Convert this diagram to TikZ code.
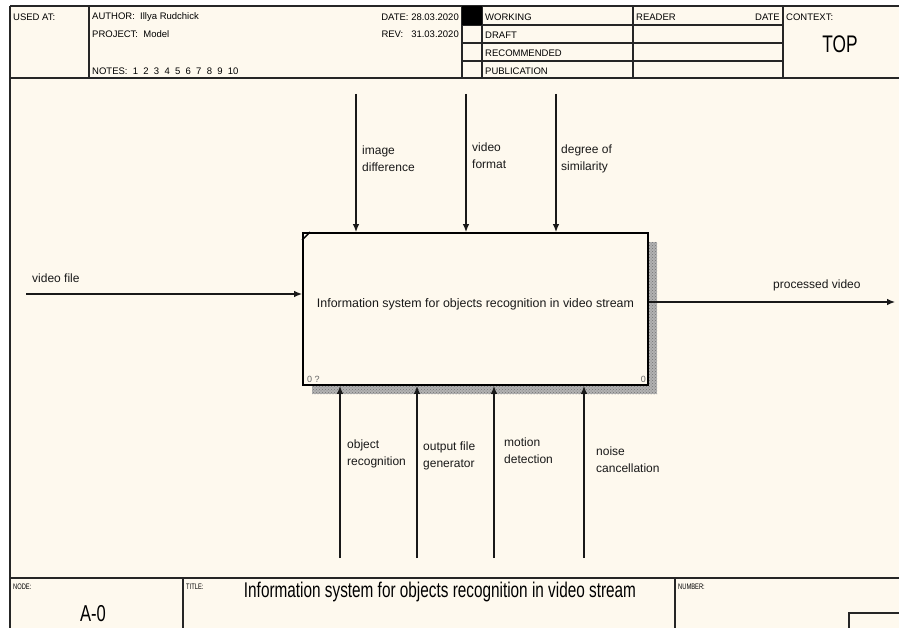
\documentclass[tikz,border=0pt]{standalone}
\usepackage{fontspec}
\setmainfont{Liberation Sans}
\newfontfamily\narrowfont[FakeStretch=0.72]{Liberation Sans}
\usetikzlibrary{arrows.meta, positioning, calc, patterns}
\definecolor{paper}{RGB}{254,249,238}
\tikzset{
  frame/.style  = {draw=black!85, line width=1.2pt},
  sysbox/.style = {rectangle, draw=black, line width=1.9pt, fill=paper,
                   minimum width=345pt, minimum height=152pt, inner sep=0pt},
  arr/.style    = {-{Latex[length=8pt,width=6.5pt]}, line width=1.1pt, draw=black!90},
  lbl/.style    = {align=left, anchor=north west, inner sep=0pt,
                   font=\fontsize{12}{17}\selectfont, text=black!90},
  hdr/.style    = {anchor=west, inner sep=0pt, font=\fontsize{9.5}{11}\selectfont},
  tag/.style    = {anchor=west, inner sep=0pt, font=\narrowfont\fontsize{8}{9}\selectfont},
  big/.style    = {inner sep=0pt, font=\narrowfont\fontsize{21}{24}\selectfont},
}

\begin{document}
\begin{tikzpicture}[x=1pt, y=-1pt]
  \useasboundingbox (0,0) rectangle (899,628);
  \fill[white] (0,0) rectangle (899,628);
  \fill[paper] (10,6) rectangle (899,628);

  % header form
  \draw[frame, line width=1.5pt] (10,6) -- (899,6);
  \draw[frame, line width=1.5pt] (10,6) -- (10,628);
  \draw[frame] (10,78) -- (899,78);
  \foreach \x in {89,462,482,633,783}
    \draw[frame] (\x,6) -- (\x,78);
  \foreach \y in {25,43,61}
    \draw[frame] (462,\y) -- (783,\y);
  \fill[black] (462,6) rectangle (482,25);

  \node[hdr] (usedat)  at (13,17)  {USED AT:};
  \node[hdr] (author)  at (92,17)  {AUTHOR:\ \ Illya Rudchick};
  \node[hdr] (project) at (92,34)  {PROJECT:\ \ Model};
  \node[hdr] (notes)   at (92,71)  {NOTES:\ \ 1\ \ 2\ \ 3\ \ 4\ \ 5\ \ 6\ \ 7\ \ 8\ \ 9\ \ 10};
  \node[hdr, anchor=east] (date) at (459,17) {DATE: 28.03.2020};
  \node[hdr, anchor=east] (rev)  at (459,34) {REV:\ \ \ 31.03.2020};
  \node[hdr] (working) at (485,17) {WORKING};
  \node[hdr] (draft)   at (485,35) {DRAFT};
  \node[hdr] (recomm)  at (485,53) {RECOMMENDED};
  \node[hdr] (public)  at (485,71) {PUBLICATION};
  \node[hdr] (reader)  at (636,17) {READER};
  \node[hdr, anchor=east] (rdate) at (780,17) {DATE};
  \node[hdr] (context) at (786,17) {CONTEXT:};
  \node[big, font=\narrowfont\fontsize{24}{26}\selectfont] (top) at (840,44) {TOP};

  % footer form
  \draw[frame] (10,578) -- (899,578);
  \foreach \x in {183,675}
    \draw[frame] (\x,578) -- (\x,628);
  \draw[frame] (849,628) |- (899,613);
  \node[tag] (nodelbl)   at (13,587)  {NODE:};
  \node[tag] (titlelbl)  at (186,587) {TITLE:};
  \node[tag] (numberlbl) at (678,587) {NUMBER:};
  \node[big, font=\narrowfont\fontsize{23}{26}\selectfont] (nodeno) at (93,614) {A-0};
  \node[big, font=\narrowfont\fontsize{21.3}{24}\selectfont] (title) at (440,592)
    {Information system for objects recognition in video stream};

  % activity box
  \fill[black!30] (312,242) rectangle (657,394);
  \fill[pattern=crosshatch dots, pattern color=black!55] (312,242) rectangle (657,394);
  \node[sysbox] (sys) at (475.5,309) {};
  \node[inner sep=0pt, font=\fontsize{12.4}{14}\selectfont, text=black!90] (systext)
    at ([yshift=5pt]sys.center) {Information system for objects recognition in video stream};
  \draw[line width=1.4pt] ([yshift=-8pt]sys.north west) -- ([xshift=8pt]sys.north west);
  \node[tag, font=\fontsize{9}{10}\selectfont, text=black!60] (num0) at (307,379) {0 ?};
  \node[tag, anchor=east, font=\fontsize{9}{10}\selectfont, text=black!60] (num1) at (646,379) {0};

  % controls
  \coordinate (c1) at (356,94);
  \coordinate (c2) at (466,94);
  \coordinate (c3) at (556,94);
  \foreach \c in {c1,c2,c3}
    \draw[arr] (\c) -- (\c |- sys.north);
  \node[lbl] (imgdiff) at (362,146) {image\\difference};
  \node[lbl] (vidfmt)  at (472,143) {video\\format};
  \node[lbl] (degsim)  at (561,145) {degree of\\similarity};

  % mechanisms
  \coordinate (m1) at (340,558);
  \coordinate (m2) at (417,558);
  \coordinate (m3) at (494,558);
  \coordinate (m4) at (584,558);
  \foreach \m in {m1,m2,m3,m4}
    \draw[arr] (\m) -- (\m |- sys.south);
  \node[lbl] (objrec) at (347,440) {object\\recognition};
  \node[lbl] (outgen) at (423,442) {output file\\generator};
  \node[lbl] (motdet) at (504,438) {motion\\detection};
  \node[lbl] (noise)  at (596,447) {noise\\cancellation};

  % input and output
  \coordinate (in)  at (26,294);
  \coordinate (out) at (895,302);
  \draw[arr] (in) -- (in -| sys.west);
  \draw[arr] (sys.east |- out) -- (out);
  \node[lbl] (vidfile)  at (32,274) {video file};
  \node[lbl] (procvid)  at (773,280) {processed video};
\end{tikzpicture}
\end{document}
